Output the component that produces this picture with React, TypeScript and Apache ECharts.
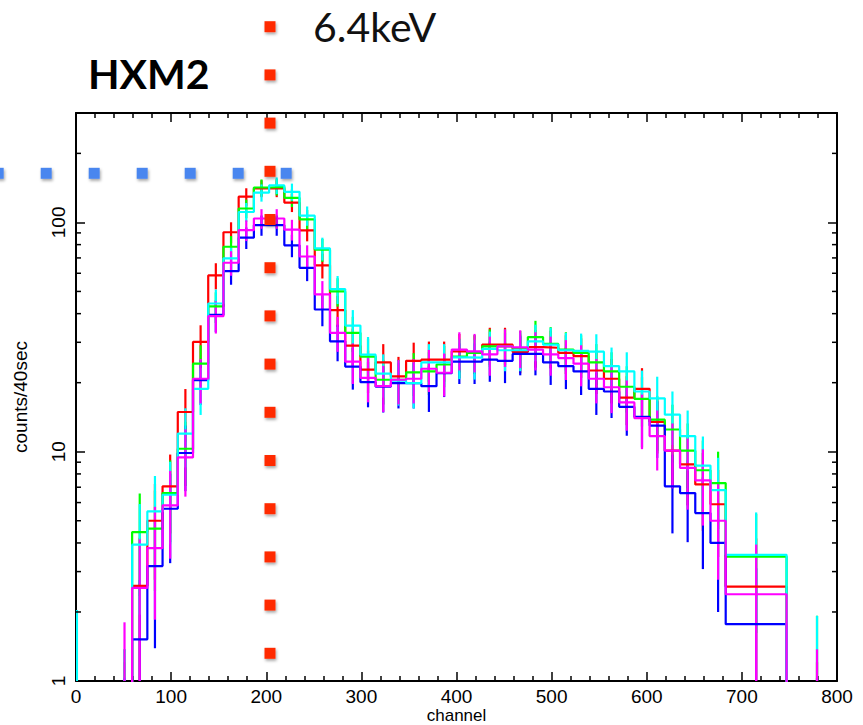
import React, { useEffect, useRef } from "react";
import * as echarts from "echarts";

// Channel bin edges (16-channel bins, last two wide bins)
const binEdges = [
  43, 59, 75, 91, 107, 123, 139, 155, 171, 187, 203, 219, 235, 251, 267, 283,
  299, 315, 331, 347, 363, 379, 395, 411, 427, 443, 459, 475, 491, 507, 523,
  539, 555, 571, 587, 603, 619, 635, 651, 667, 683, 747, 811,
];

// counts/40sec per bin
const redCounts = [
  0.5, 2.6, 5.0, 7.06, 14.9, 30.1, 58.7, 90.6, 129.5, 140.7, 140.7, 122, 92.3,
  65, 41.4, 29.0, 22.8, 24.5, 21.3, 24.9, 25.2, 25.2, 27.4, 27.0, 29.3, 29.3,
  27.2, 28.6, 28.4, 27.0, 26.1, 22.6, 20.8, 17.2, 18.8, 13.5, 10.1, 8.8, 7.2,
  5.9, 2.58, 0.5,
];
const greenCounts = [
  0.6, 4.46, 4.62, 6.6, 10.3, 24.2, 43, 78.3, 115, 142, 143, 128, 103, 76, 50,
  33, 26, 20.6, 20.6, 22.2, 22.4, 24, 26, 27, 28.8, 28.8, 28.3, 31.6, 29.5,
  27.9, 27.0, 24.5, 22.4, 19.2, 17.0, 13.8, 12.5, 10.1, 8.3, 7.3, 3.49, 0.95,
];
const blueCounts = [
  0.4, 1.52, 3.17, 5.64, 9.87, 20.5, 39.5, 61.3, 85.8, 97.3, 97.3, 79.4, 63.4,
  41.7, 30.3, 23.5, 20.1, 19.2, 19.9, 19.9, 19.3, 22, 24.7, 24.7, 25.2, 24.9,
  26.7, 26.7, 24.5, 23.6, 22.4, 18.8, 18.3, 15.7, 14.2, 13.0, 7.06, 6.6, 5.4,
  4.0, 1.77, 0.4,
];
const cyanCounts = [
  0.6, 3.93, 5.49, 6.49, 12.0, 18.8, 44.3, 69.7, 111, 134.8, 145, 136, 107, 77,
  51.2, 35.5, 26.5, 21.9, 20.4, 19.9, 24.5, 24.5, 25.8, 25.7, 28.1, 27.7, 27.7,
  30.3, 29.3, 27.7, 27.5, 27.3, 23.6, 22.4, 18.3, 17.1, 14.5, 11.7, 8.7, 6.8,
  3.55, 0.95,
];
const magentaCounts = [
  0.87, 2.55, 3.8, 5.83, 9.44, 20.8, 39, 66.7, 92.5, 104, 104, 93, 71, 48.5,
  33.0, 24.7, 21.0, 19.3, 20.6, 20.8, 23.0, 22.1, 27.9, 27.4, 26.6, 28.8, 28.5,
  27.9, 26.6, 25.6, 24.2, 20.8, 19.1, 16.4, 14.0, 11.7, 10.1, 8.5, 7.5, 5.0,
  2.39, 0.6,
];

// extra error bar seen at channel 0 (cyan): [channel, low, high]
const cyanChannelZeroBar = [1, 0.2, 2.04];

const seriesList = [
  { name: "det1", values: redCounts, color: "#ff0000" },
  { name: "det2", values: greenCounts, color: "#00ff00" },
  { name: "det3", values: blueCounts, color: "#0000ff" },
  { name: "det4", values: cyanCounts, color: "#00ffff" },
  { name: "det5", values: magentaCounts, color: "#ff00ff" },
];

const logMinorTicks = [2, 3, 4, 5, 6, 7, 8, 9, 20, 30, 40, 50, 60, 70, 80, 90, 200];

const titleText = "HXM2";
const lineLabel = "6.4keV";

function stepPoints(values: number[]) {
  const pts: number[][] = [];
  values.forEach((v, i) => {
    pts.push([binEdges[i], v]);
    pts.push([binEdges[i + 1], v]);
  });
  return pts;
}

function errorItems(values: number[]) {
  // Poisson errors on counts
  return values.map((v, i) => {
    const e = Math.sqrt(v);
    return [(binEdges[i] + binEdges[i + 1]) / 2, Math.max(v - e, 0.2), v + e];
  });
}

const FONT = "'Liberation Sans', Arial, Helvetica, sans-serif";

export default function App() {
  const ref = useRef<HTMLDivElement>(null);
  useEffect(() => {
    document.body.style.margin = "0";
    const chart = echarts.init(ref.current!, null, { renderer: "svg" });

    const axisLine = { onZero: false, lineStyle: { color: "#000", width: 2 } };
    const axisTick = { inside: true, length: 9, lineStyle: { color: "#000", width: 1.5 } };
    const minorTick = { show: true, splitNumber: 5, length: 5, lineStyle: { color: "#000", width: 1.5 } };
    const labelStyle = { color: "#000", fontSize: 19, fontFamily: FONT };

    const series: any[] = [];
    seriesList.forEach((s) => {
      series.push({
        type: "line",
        name: s.name,
        data: stepPoints(s.values),
        showSymbol: false,
        symbol: "none",
        lineStyle: { color: s.color, width: 2.2 },
        itemStyle: { color: s.color },
        clip: true,
        silent: true,
      });
      const errs = errorItems(s.values);
      if (s.values === cyanCounts) errs.push(cyanChannelZeroBar);
      series.push({
        type: "custom",
        name: s.name + "-err",
        data: errs,
        encode: { x: 0, y: [1, 2] },
        clip: true,
        silent: true,
        renderItem: (params: any, api: any) => {
          const x = api.value(0);
          const p1 = api.coord([x, api.value(1)]);
          const p2 = api.coord([x, api.value(2)]);
          return {
            type: "line",
            shape: { x1: p1[0], y1: p1[1], x2: p2[0], y2: p2[1] },
            style: { stroke: s.color, lineWidth: 2.2 },
          };
        },
      });
    });

    // log minor ticks on left and right frame
    series.push({
      type: "custom",
      data: logMinorTicks.map((v) => [0, v]),
      encode: { x: 0, y: 1 },
      clip: false,
      silent: true,
      renderItem: (params: any, api: any) => {
        const v = api.value(1);
        const l = api.coord([0, v]);
        const r = api.coord([800, v]);
        return {
          type: "group",
          children: [
            { type: "line", shape: { x1: l[0], y1: l[1], x2: l[0] + 5, y2: l[1] }, style: { stroke: "#000", lineWidth: 1.5 } },
            { type: "line", shape: { x1: r[0], y1: r[1], x2: r[0] - 5, y2: r[1] }, style: { stroke: "#000", lineWidth: 1.5 } },
          ],
        };
      },
    });

    const graphic: any[] = [];
    graphic.push({
      type: "text",
      x: 88,
      y: 73,
      z: 100,
      style: { text: titleText, font: "bold 41px Lato, sans-serif", fill: "#000", verticalAlign: "middle" },
    });
    graphic.push({
      type: "text",
      x: 313,
      y: 26,
      z: 100,
      style: { text: lineLabel, font: "41px Lato, sans-serif", fill: "#111", verticalAlign: "middle" },
    });
    const sq = 11;
    for (let k = 0; k < 7; k++) {
      const cx = -1.8 + 48 * k;
      graphic.push({
        type: "rect",
        z: 100,
        shape: { x: cx - sq / 2, y: 173.3 - sq / 2, width: sq, height: sq },
        style: { fill: "#4a86ef", shadowBlur: 3, shadowColor: "rgba(0,0,0,0.35)", shadowOffsetX: 1, shadowOffsetY: 2 },
      });
    }
    for (let k = 0; k < 14; k++) {
      const cy = 26.7 + 48.2 * k;
      graphic.push({
        type: "rect",
        z: 100,
        shape: { x: 270 - sq / 2, y: cy - sq / 2, width: sq, height: sq },
        style: { fill: "#ff2a00", shadowBlur: 3, shadowColor: "rgba(0,0,0,0.35)", shadowOffsetX: 1, shadowOffsetY: 2 },
      });
    }

    chart.setOption({
      animation: false,
      backgroundColor: "#ffffff",
      grid: { left: 76, right: 26, top: 113, bottom: 44, outerBoundsMode: "none" },
      xAxis: [
        {
          type: "value",
          min: 0,
          max: 800,
          interval: 100,
          position: "bottom",
          axisLine,
          axisTick,
          minorTick,
          splitLine: { show: false },
          axisLabel: { ...labelStyle, margin: 6 },
          name: "channel",
          nameLocation: "middle",
          nameGap: 26,
          nameMoveOverlap: false,
          nameTextStyle: { ...labelStyle, fontSize: 17, lineHeight: 17 },
        },
        {
          type: "value",
          min: 0,
          max: 800,
          interval: 100,
          position: "top",
          axisLine,
          axisTick,
          minorTick,
          splitLine: { show: false },
          axisLabel: { show: false },
        },
      ],
      yAxis: [
        {
          type: "log",
          logBase: 10,
          min: 1,
          max: 300,
          position: "left",
          axisLine,
          axisTick,
          splitLine: { show: false },
          axisLabel: { ...labelStyle, rotate: 90, margin: 8, showMaxLabel: false },
          name: "counts/40sec",
          nameLocation: "middle",
          nameGap: 46,
          nameTextStyle: { ...labelStyle },
        },
        {
          type: "log",
          logBase: 10,
          min: 1,
          max: 300,
          position: "right",
          axisLine,
          axisTick,
          splitLine: { show: false },
          axisLabel: { show: false },
        },
      ],
      series,
      graphic,
    });
    return () => chart.dispose();
  }, []);
  return <div ref={ref} style={{ width: 863, height: 725 }} />;
}
